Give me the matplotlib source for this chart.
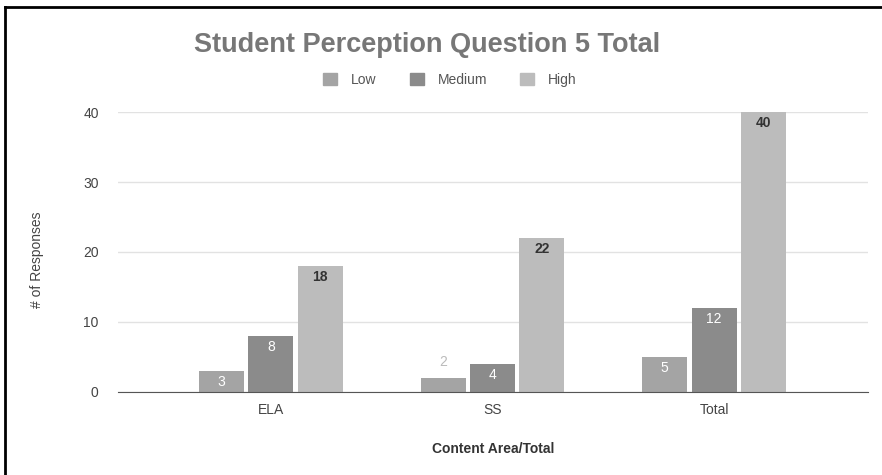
import numpy as np
import matplotlib
matplotlib.use("Agg")
import matplotlib.pyplot as plt
from matplotlib.lines import Line2D

# data
categories = ["ELA", "SS", "Total"]
series = ["Low", "Medium", "High"]
low = [3, 2, 5]
medium = [8, 4, 12]
high = [18, 22, 40]

colors = ["#a4a4a4", "#8b8b8b", "#bcbcbc"]
label_colors = ["white", "white", "#333333"]

plt.rcParams["font.family"] = ["Liberation Sans", "DejaVu Sans"]

fig = plt.figure(figsize=(8.82, 4.75), dpi=100)
ax = fig.add_axes([0.134, 0.175, 0.850, 0.589])

x = np.arange(len(categories))
width = 0.203
offsets = [-0.223, 0.0, 0.223]

for vals, name, col, lc, off in zip([low, medium, high], series, colors, label_colors, offsets):
    bars = ax.bar(x + off, vals, width, color=col, label=name, zorder=3)
    for b, v in zip(bars, vals):
        cx = b.get_x() + b.get_width() / 2
        if v >= 3:
            ax.text(cx, v - 0.6, str(v), ha="center", va="top", fontsize=10,
                    color=lc, fontweight="bold" if lc != "white" else "normal", zorder=4)
        else:
            ax.text(cx, v + 1.2, str(v), ha="center", va="bottom", fontsize=10,
                    color="#bbbbbb", zorder=4)

ax.set_ylim(0, 40)
ax.set_xlim(-0.689, 2.694)
ax.set_yticks([0, 10, 20, 30, 40])
ax.set_xticks(x)
ax.set_xticklabels(categories)
ax.tick_params(axis="both", length=0, labelsize=10, colors="#444444")
ax.tick_params(axis="y", pad=14)
ax.tick_params(axis="x", pad=8)
ax.grid(axis="y", color="#e2e2e2", linewidth=1, zorder=0)
for s in ["top", "right", "left"]:
    ax.spines[s].set_visible(False)
ax.spines["bottom"].set_color("#555555")
ax.spines["bottom"].set_zorder(5)

ax.set_xlabel("Content Area/Total", fontsize=10, fontweight="bold", color="#333333", labelpad=18)
fig.text(0.042, 0.453, "# of Responses", rotation=90, ha="center", va="center",
         fontsize=10, color="#444444")

fig.text(0.484, 0.905, "Student Perception Question 5 Total", ha="center", va="center",
         fontsize=19.5, fontweight="bold", color="#777777")

handles = [plt.Rectangle((0, 0), 1, 1, color=c) for c in colors]
fig.legend(handles, series, loc="center", bbox_to_anchor=(0.51, 0.832), ncol=3,
           frameon=False, fontsize=10, labelcolor="#555555", handlelength=1.0,
           handleheight=1.0, columnspacing=2.4, handletextpad=1.0)

# frame lines (left and top only)
fig.add_artist(Line2D([0.0057, 0.0057], [0, 0.986], transform=fig.transFigure, color="black", linewidth=2))
fig.add_artist(Line2D([0.0057, 1.0], [0.986, 0.986], transform=fig.transFigure, color="black", linewidth=2))

fig.savefig("out.png", dpi=100)
